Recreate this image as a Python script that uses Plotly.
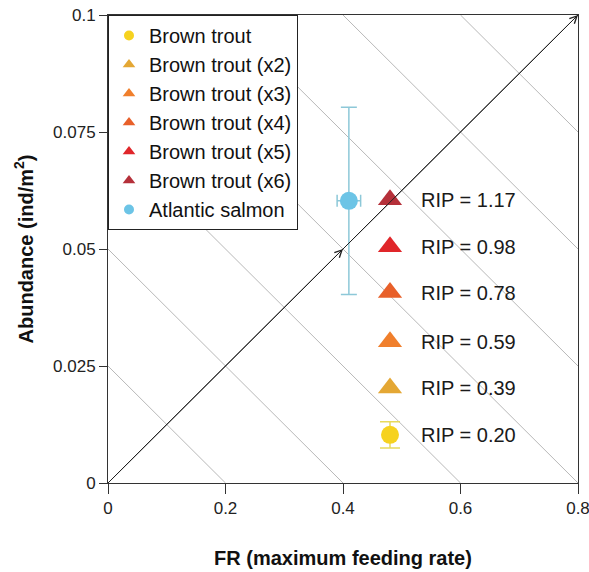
import plotly.graph_objects as go

# ---- data ----
fr_max = 0.8
abund_max = 0.1
iso_levels = [0.25, 0.5, 0.75, 1.0, 1.25, 1.5, 1.75]

species = ["Brown trout", "Brown trout (x2)", "Brown trout (x3)", "Brown trout (x4)",
           "Brown trout (x5)", "Brown trout (x6)", "Atlantic salmon"]
colors = ["#F6D21F", "#E4A734", "#F07F2C", "#E8602A", "#E0262A", "#B5303A", "#6CC4E6"]
err_colors = ["#E8DA5C", None, None, None, None, None, "#8DC8D8"]
symbols = ["circle", "triangle-up", "triangle-up", "triangle-up", "triangle-up", "triangle-up", "circle"]
fr_values = [0.48, 0.48, 0.48, 0.48, 0.48, 0.48, 0.41]
abund_values = [0.0103, 0.0203, 0.0302, 0.0407, 0.0505, 0.0605, 0.0603]
abund_err = [0.0028, 0, 0, 0, 0, 0, 0.020]
fr_err = [0, 0, 0, 0, 0, 0, 0.020]
rip_values = ["0.20", "0.39", "0.59", "0.78", "0.98", "1.17"]
rip_x = 0.529

FONT = "Liberation Sans, Arial, sans-serif"

fig = go.Figure()

# iso lines (x/fr_max + y/abund_max = c)
gx, gy = [], []
for c in iso_levels:
    if c <= 1:
        gx += [0, fr_max * c, None]
        gy += [abund_max * c, 0, None]
    else:
        gx += [fr_max * (c - 1), fr_max, None]
        gy += [abund_max, abund_max * (c - 1), None]
fig.add_trace(go.Scatter(x=gx, y=gy, mode="lines", line=dict(color="#B8B8B8", width=1),
                         showlegend=False, hoverinfo="skip"))

# 1:1 diagonal
fig.add_trace(go.Scatter(x=[0, fr_max], y=[0, abund_max], mode="lines",
                         line=dict(color="#222222", width=1), showlegend=False, hoverinfo="skip"))

# data points
for i, name in enumerate(species):
    kw = {}
    if abund_err[i] > 0:
        kw["error_y"] = dict(type="data", array=[abund_err[i]], color=err_colors[i],
                             thickness=1.5, width=10 if i == 0 else 8)
    if fr_err[i] > 0:
        kw["error_x"] = dict(type="data", array=[fr_err[i]], color=err_colors[i],
                             thickness=1.5, width=6)
    fig.add_trace(go.Scatter(
        x=[fr_values[i]], y=[abund_values[i]], mode="markers",
        marker=dict(symbol=symbols[i], color=colors[i],
                    size=18 if symbols[i] == "circle" else 21, line=dict(width=0)),
        showlegend=False, **kw))

# legend-only entries
for i, name in enumerate(species):
    fig.add_trace(go.Scatter(
        x=[None], y=[None], mode="markers", name=name,
        marker=dict(symbol=symbols[i], color=colors[i],
                    size=10 if symbols[i] == "circle" else 11, line=dict(width=0))))

annotations = []
for i, r in enumerate(rip_values):
    annotations.append(dict(x=rip_x, y=abund_values[i], xref="x", yref="y",
                            text=f"RIP = {r}", showarrow=False, xanchor="left",
                            yanchor="middle", font=dict(family=FONT, size=20, color="#1a1a1a")))
# arrowheads on diagonal
annotations.append(dict(x=fr_max / 2, y=abund_max / 2, ax=0, ay=0, xref="x", yref="y",
                        axref="x", ayref="y", showarrow=True, arrowhead=5, arrowsize=1.4,
                        arrowwidth=1, arrowcolor="#222222", text=" ", font=dict(size=2)))
annotations.append(dict(x=fr_max, y=abund_max, ax=fr_max / 2, ay=abund_max / 2, xref="x", yref="y",
                        axref="x", ayref="y", showarrow=True, arrowhead=5, arrowsize=1.4,
                        arrowwidth=1, arrowcolor="#222222", text=" ", font=dict(size=2)))

fig.update_layout(
    width=589, height=572,
    margin=dict(l=108, r=11, t=15, b=89, autoexpand=False),
    paper_bgcolor="white", plot_bgcolor="white",
    font=dict(family=FONT, size=17, color="#222222"),
    showlegend=True,
    legend=dict(x=0, y=1, xanchor="left", yanchor="top", bgcolor="white",
                bordercolor="#222222", borderwidth=1,
                font=dict(family=FONT, size=20, color="#111111"),
                tracegroupgap=0),
    annotations=annotations,
)
fig.update_xaxes(range=[0, fr_max], tickvals=[0, 0.2, 0.4, 0.6, 0.8],
                 ticktext=["0", "0.2", "0.4", "0.6", "0.8"], automargin=False,
                 ticklabeloverflow="allow",
                 showgrid=False, zeroline=False, showline=True, linecolor="#333333", linewidth=1,
                 mirror=True, ticks="outside", ticklen=10, tickcolor="#333333",
                 title=dict(text="<b>FR (maximum feeding rate)</b>", standoff=33,
                            font=dict(family=FONT, size=20, color="#111111")))
fig.update_yaxes(range=[0, abund_max], tickvals=[0, 0.025, 0.05, 0.075, 0.1],
                 ticktext=["0", "0.025", "0.05", "0.075", "0.1"], automargin=False,
                 ticklabeloverflow="allow",
                 showgrid=False, zeroline=False, showline=True, linecolor="#333333", linewidth=1,
                 mirror=True, ticks="outside", ticklen=8, tickcolor="#333333",
                 title=dict(text="<b>Abundance (ind/m<sup>2</sup>)</b>", standoff=14,
                            font=dict(family=FONT, size=20, color="#111111")))

fig.write_html("out.html", config={"displayModeBar": False},
               post_script="document.body.style.margin='0';document.body.style.overflow='hidden';")
